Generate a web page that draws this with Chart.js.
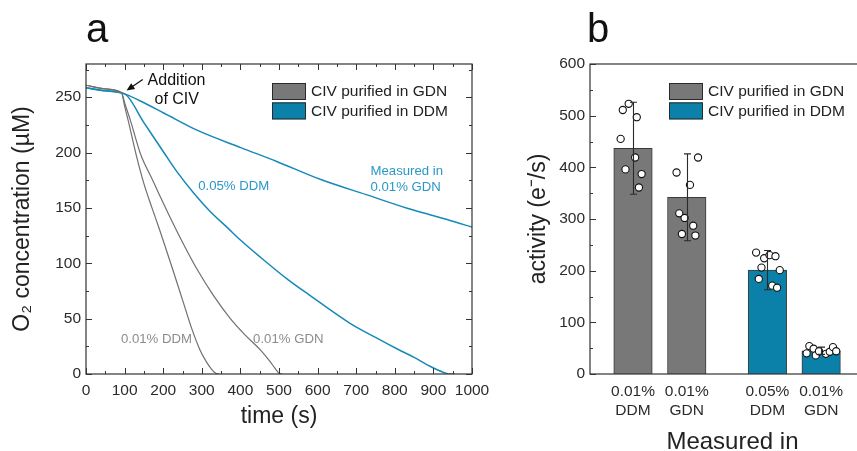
<!DOCTYPE html>
<html>
<head>
<meta charset="utf-8">
<script src="https://cdn.jsdelivr.net/npm/chart.js@4.4.1/dist/chart.umd.min.js"></script>
<style>
  html, body { margin: 0; padding: 0; width: 857px; height: 451px; overflow: hidden; background: #fff; }
  #wrapA { position: absolute; left: 0; top: 0; width: 500px; height: 451px; }
  #wrapB { position: absolute; left: 480px; top: 0; width: 400px; height: 470px; }
  .panel { position: absolute; top: 8px; font: 40px "Liberation Sans Narrow", "Liberation Sans", Arial, sans-serif; line-height: 1; color: #111; }
</style>
</head>
<body>
<div id="wrapA"><canvas id="chartA" width="500" height="451"></canvas></div>
<div id="wrapB"><canvas id="chartB" width="400" height="470"></canvas></div>
<div class="panel" style="left:86px">a</div>
<div class="panel" style="left:587px">b</div>
<script>
// ---- panel a : O2 traces ----
// CIV purified in GDN, measured in 0.01% DDM
const timeGdnInDdm = [0, 50, 92, 100, 110, 130, 150, 170, 190, 210, 226, 250, 274, 295, 312, 325, 335, 345];
const o2GdnInDdm   = [260.8, 257.5, 254, 242, 228, 198, 172, 151, 131, 110, 93, 67, 41, 22, 11, 4.5, 1, 0];
// CIV purified in GDN, measured in 0.01% GDN
const timeGdnInGdn = [0, 50, 92, 100, 116, 142, 170, 190, 213, 250, 287, 330, 374, 410, 451, 475, 490, 501, 508];
const o2GdnInGdn   = [260.8, 257.5, 254, 245, 228, 198, 177, 162, 145, 119, 95, 71, 50, 36, 22, 12, 5, 0.5, 0];
// CIV purified in DDM, measured in 0.05% DDM
const timeDdmInDdm = [0, 50, 100, 150, 200, 235, 280, 321, 367, 400, 450, 524, 580, 683, 750, 804, 850, 891, 934, 945, 955];
const o2DdmInDdm   = [258.5, 255.8, 253, 227, 201, 183, 163, 147, 132, 121, 106, 85, 71, 46, 33, 23, 15, 7, 0.5, 0, 0];
// CIV purified in DDM, measured in 0.01% GDN
const timeDdmInGdn = [0, 50, 100, 138, 200, 289, 401, 494, 610, 726, 830, 891, 943, 1000];
const o2DdmInGdn   = [258.5, 255.8, 253, 247, 236, 220, 204.5, 192, 175.4, 162, 150, 143.8, 138.7, 132.7];

// ---- panel b : activity ----
const barLabels = [['0.01%', 'DDM'], ['0.01%', 'GDN'], ['0.05%', 'DDM'], ['0.01%', 'GDN']];
const barPos = [1, 2, 3.5, 4.5];
const activityMean = [437, 342, 201, 45];
const activitySD = [89, 84, 38, 7];
// single measurements: [x offset from bar centre, activity]
const ptsGdnInDdm = [[-0.08, 523], [-0.19, 511], [0.07, 497], [-0.23, 455], [0.04, 419], [-0.14, 396], [0.16, 387], [0.11, 361]];
const ptsGdnInGdn = [[0.21, 419], [-0.19, 390], [0.06, 366], [-0.14, 311], [-0.04, 302], [0.12, 287], [-0.09, 271], [0.16, 268]];
const ptsDdmInDdm = [[-0.21, 235], [-0.06, 224], [0.04, 230], [0.15, 228], [-0.11, 206], [0.23, 201], [-0.16, 184], [0.09, 171], [0.18, 167]];
const ptsDdmInGdn = [[-0.22, 54], [-0.14, 49], [-0.27, 40], [-0.10, 36], [-0.04, 44], [0.09, 39], [0.16, 43], [0.22, 52], [0.28, 44]];

const legendLabels = ['CIV purified in GDN', 'CIV purified in DDM'];
const GRAY = '#787878', BLUE = '#0b80a8', LINE_GRAY = '#707070', LINE_BLUE = '#1689b8';

Chart.defaults.font.family = '"Liberation Sans", Arial, sans-serif';
Chart.defaults.color = '#2b2b2b';

function pairs(xs, ys) {
  return xs.map((x, i) => ({ x: x, y: ys[i] }));
}

// frame + inward ticks (major and minor)
const frameTicks = {
  id: 'frameTicks',
  afterDraw(chart, args, o) {
    const { ctx, chartArea: a, scales } = chart;
    ctx.save();
    ctx.strokeStyle = '#333';
    ctx.lineWidth = 1.2;
    ctx.strokeRect(a.left, a.top, a.right - a.left, a.bottom - a.top);
    ctx.lineWidth = 1;
    ctx.beginPath();
    if (o.x) {
      const s = scales.x;
      for (let v = s.min; v <= s.max; v += o.x.minor) {
        const len = (Math.round(v) % o.x.major === 0) ? 6 : 3;
        const px = Math.round(s.getPixelForValue(v)) + 0.5;
        ctx.moveTo(px, a.bottom); ctx.lineTo(px, a.bottom - len);
        ctx.moveTo(px, a.top); ctx.lineTo(px, a.top + len);
      }
    }
    if (o.y) {
      const s = scales.y;
      for (let v = s.min; v <= s.max; v += o.y.minor) {
        const len = (Math.round(v) % o.y.major === 0) ? 6 : 3;
        const py = Math.round(s.getPixelForValue(v)) + 0.5;
        ctx.moveTo(a.left, py); ctx.lineTo(a.left + len, py);
        if (o.y.right) { ctx.moveTo(a.right, py); ctx.lineTo(a.right - len, py); }
      }
    }
    ctx.stroke();
    ctx.restore();
  }
};

// stacked legend inside the plot
const boxLegend = {
  id: 'boxLegend',
  afterDraw(chart, args, o) {
    const { ctx, chartArea: a } = chart;
    ctx.save();
    legendLabels.forEach((txt, i) => {
      const x = a.left + o.x, y = a.top + o.y + i * 19.4;
      ctx.fillStyle = [GRAY, BLUE][i];
      ctx.fillRect(x, y, 34, 17);
      ctx.strokeStyle = '#2a2a2a';
      ctx.lineWidth = 1;
      ctx.strokeRect(x + 0.5, y + 0.5, 33, 16);
      ctx.fillStyle = '#222';
      ctx.font = '15.5px "Liberation Sans", Arial, sans-serif';
      ctx.textAlign = 'left';
      ctx.textBaseline = 'middle';
      ctx.fillText(txt, x + 39, y + 9);
    });
    ctx.restore();
  }
};

// text notes and arrow placed in data units
const notes = {
  id: 'notes',
  afterDatasetsDraw(chart, args, o) {
    if (!o.items) return;
    const { ctx, scales: { x, y } } = chart;
    ctx.save();
    o.items.forEach(n => {
      ctx.font = n.size + 'px "Liberation Sans", Arial, sans-serif';
      ctx.fillStyle = n.color;
      ctx.textAlign = n.align;
      ctx.textBaseline = 'middle';
      ctx.fillText(n.text, x.getPixelForValue(n.t), y.getPixelForValue(n.v));
    });
    if (o.arrow) {
      const x1 = x.getPixelForValue(o.arrow.from[0]), y1 = y.getPixelForValue(o.arrow.from[1]);
      const x2 = x.getPixelForValue(o.arrow.to[0]), y2 = y.getPixelForValue(o.arrow.to[1]);
      const ang = Math.atan2(y2 - y1, x2 - x1);
      ctx.strokeStyle = '#111'; ctx.fillStyle = '#111'; ctx.lineWidth = 1.3;
      ctx.beginPath(); ctx.moveTo(x1, y1);
      ctx.lineTo(x2 - 5 * Math.cos(ang), y2 - 5 * Math.sin(ang)); ctx.stroke();
      ctx.beginPath();
      ctx.moveTo(x2, y2);
      ctx.lineTo(x2 - 8 * Math.cos(ang) + 3.5 * Math.sin(ang), y2 - 8 * Math.sin(ang) - 3.5 * Math.cos(ang));
      ctx.lineTo(x2 - 8 * Math.cos(ang) - 3.5 * Math.sin(ang), y2 - 8 * Math.sin(ang) + 3.5 * Math.cos(ang));
      ctx.closePath(); ctx.fill();
    }
    ctx.restore();
  }
};

// mean +/- SD whiskers
const errorBars = {
  id: 'errorBars',
  afterDatasetsDraw(chart, args, o) {
    if (!o.show) return;
    const { ctx, scales: { x, y } } = chart;
    ctx.save();
    ctx.strokeStyle = '#2a2a2a';
    ctx.lineWidth = 1.1;
    ctx.beginPath();
    barPos.forEach((p, i) => {
      const px = Math.round(x.getPixelForValue(p)) + 0.5;
      const top = y.getPixelForValue(activityMean[i] + activitySD[i]);
      const bot = y.getPixelForValue(activityMean[i] - activitySD[i]);
      ctx.moveTo(px, top); ctx.lineTo(px, bot);
      ctx.moveTo(px - 3.5, top); ctx.lineTo(px + 3.5, top);
      ctx.moveTo(px - 3.5, bot); ctx.lineTo(px + 3.5, bot);
    });
    ctx.stroke();
    ctx.restore();
  }
};

const tickFont = { size: 15.5 };
const noGrid = { display: false, drawTicks: false };

new Chart(document.getElementById('chartA'), {
  type: 'line',
  data: {
    datasets: [
      { data: pairs(timeGdnInDdm, o2GdnInDdm), borderColor: LINE_GRAY, borderWidth: 1.2 },
      { data: pairs(timeGdnInGdn, o2GdnInGdn), borderColor: LINE_GRAY, borderWidth: 1.2 },
      { data: pairs(timeDdmInDdm, o2DdmInDdm), borderColor: LINE_BLUE, borderWidth: 1.5 },
      { data: pairs(timeDdmInGdn, o2DdmInGdn), borderColor: LINE_BLUE, borderWidth: 1.5 }
    ]
  },
  plugins: [frameTicks, boxLegend, notes],
  options: {
    responsive: false,
    animation: false,
    elements: { point: { radius: 0 }, line: { cubicInterpolationMode: 'monotone' } },
    layout: { padding: { top: 64, right: 28, left: 0, bottom: 0 } },
    plugins: {
      legend: { display: false },
      tooltip: { enabled: false },
      frameTicks: { x: { major: 100, minor: 50 }, y: { major: 50, minor: 25, right: true } },
      boxLegend: { x: 186, y: 19 },
      notes: {
        items: [
          { text: 'Addition', t: 234.5, v: 265, color: '#111', size: 16, align: 'center' },
          { text: 'of CIV', t: 235, v: 248.2, color: '#111', size: 16, align: 'center' },
          { text: '0.05% DDM', t: 382.6, v: 169.3, color: '#2a97c6', size: 13.2, align: 'center' },
          { text: 'Measured in', t: 737, v: 182.9, color: '#2a97c6', size: 13.2, align: 'left' },
          { text: '0.01% GDN', t: 737, v: 168.8, color: '#2a97c6', size: 13.2, align: 'left' },
          { text: '0.01% DDM', t: 182.6, v: 31.6, color: '#8c8c8c', size: 13.2, align: 'center' },
          { text: '0.01% GDN', t: 524, v: 31.6, color: '#8c8c8c', size: 13.2, align: 'center' }
        ],
        arrow: { from: [147, 266], to: [105, 256] }
      }
    },
    scales: {
      x: {
        type: 'linear', min: 0, max: 1000,
        ticks: { stepSize: 100, padding: 7, font: tickFont, maxRotation: 0, minRotation: 0, autoSkip: false, callback: v => String(v) },
        grid: noGrid, border: { display: false },
        title: { display: true, text: 'time (s)', font: { size: 23 }, color: '#222', padding: { top: 0, bottom: 21 } },
        afterFit: s => { s.height = 77; }
      },
      y: {
        min: 0, max: 280,
        ticks: { stepSize: 50, padding: 5, font: tickFont, includeBounds: false },
        grid: noGrid, border: { display: false },
        title: { display: true, text: 'O₂ concentration (µM)', font: { size: 23 }, color: '#222', padding: { top: 9, bottom: 0 } },
        afterFit: s => { s.width = 86; }
      }
    }
  }
});

function scatterSet(pts, i) {
  return {
    type: 'scatter',
    data: pts.map(p => ({ x: barPos[i] + p[0], y: p[1] })),
    order: 0,
    pointRadius: 3.6,
    pointBorderWidth: 1.1,
    pointBorderColor: '#111',
    pointBackgroundColor: '#fff'
  };
}

new Chart(document.getElementById('chartB'), {
  type: 'bar',
  data: {
    datasets: [
      scatterSet(ptsGdnInDdm, 0),
      scatterSet(ptsGdnInGdn, 1),
      scatterSet(ptsDdmInDdm, 2),
      scatterSet(ptsDdmInGdn, 3),
      {
        label: legendLabels[0],
        data: [0, 1].map(i => ({ x: barPos[i], y: activityMean[i] })),
        backgroundColor: GRAY, borderColor: '#3a3a3a', borderWidth: 1,
        grouped: false, barThickness: 38.5, order: 2
      },
      {
        label: legendLabels[1],
        data: [2, 3].map(i => ({ x: barPos[i], y: activityMean[i] })),
        backgroundColor: BLUE, borderColor: '#3a3a3a', borderWidth: 1,
        grouped: false, barThickness: 38.5, order: 2
      }
    ]
  },
  plugins: [frameTicks, boxLegend, errorBars],
  options: {
    responsive: false,
    animation: false,
    layout: { padding: { top: 64, right: 1.25, left: 0, bottom: 0 } },
    plugins: {
      legend: { display: false },
      tooltip: { enabled: false },
      frameTicks: { y: { major: 100, minor: 50, right: false } },
      boxLegend: { x: 79, y: 19 },
      errorBars: { show: true }
    },
    scales: {
      x: {
        type: 'linear', min: 0.2, max: 5.5, offset: false,
        afterBuildTicks: s => { s.ticks = barPos.map(v => ({ value: v })); },
        ticks: {
          callback: v => barLabels[barPos.indexOf(v)],
          font: { size: 15.5, lineHeight: 1.25 }, padding: 8, maxRotation: 0, autoSkip: false
        },
        grid: noGrid, border: { display: false },
        title: { display: true, text: 'Measured in', font: { size: 24 }, color: '#222', padding: { top: 0, bottom: 13.6 } },
        afterFit: s => { s.height = 96; }
      },
      y: {
        min: 0, max: 600,
        ticks: { stepSize: 100, padding: 5, font: tickFont },
        grid: noGrid, border: { display: false },
        title: { display: true, text: 'activity (e⁻/s)', font: { size: 23 }, color: '#222', padding: { top: 45, bottom: 0 } },
        afterFit: s => { s.width = 110; }
      }
    }
  }
});
</script>
</body>
</html>
